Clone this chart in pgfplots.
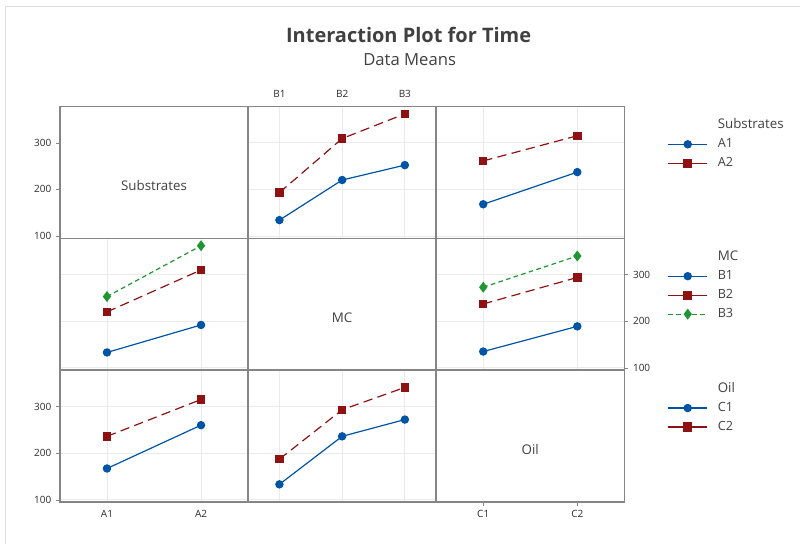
\documentclass[border=0pt]{standalone}
\usepackage{fontspec}
\setmainfont{Open Sans}
\usepackage{pgfplots}
\pgfplotsset{compat=1.18}
\definecolor{mblue}{HTML}{0054A6}
\definecolor{mred}{HTML}{8E1212}
\definecolor{mgreen}{HTML}{1E9632}
\definecolor{frame}{HTML}{858585}
\definecolor{txt}{HTML}{404040}
\definecolor{tick}{HTML}{2A2A2A}
\definecolor{gridc}{HTML}{EBEBEB}
\pgfplotsset{
  panel/.style={
    scale only axis, width=141.225pt, height=99pt, anchor=north west,
    ymin=95, ymax=378, ytick={100,200,300},
    axis line style={frame, line width=1.1pt},
    tick align=outside, major tick length=3pt,
    xtick style={draw=none}, ytick style={draw=none},
    xticklabels={}, yticklabels={},
    ticklabel style={font=\fontsize{7.5}{9}\selectfont, text=tick},
    grid=major, major grid style={gridc, line width=0.6pt},
    legend style={draw=none, fill=none, at={(axis description cs:1.229,0.904)}, anchor=north west,
      font=\fontsize{9.5}{11}\selectfont, text=txt, inner sep=0pt, row sep=5.25pt,
      nodes={inner sep=0pt, text height=7pt, text depth=2pt}},
    legend cell align=left,
    legend image code/.code={\draw[mark repeat=2,mark phase=2,##1] plot coordinates {(0pt,0pt) (14.6pt,0pt) (29.2pt,0pt)};},
    /tikz/every odd column/.append style={column sep=7.5pt},
  },
  p2/.style={xmin=0.5, xmax=2.5, xtick={1,2}},
  p3/.style={xmin=0.5, xmax=3.5, xtick={1,2,3}},
  s1/.style={mblue, line width=0.9pt, mark=*, mark size=2.7pt, mark options={solid}},
  s2/.style={mred, line width=0.9pt, dash pattern=on 7pt off 4pt, mark=square*, mark size=2.7pt, mark options={solid}},
  s2l/.style={mred, line width=0.9pt, solid, mark=square*, mark size=3pt, mark options={solid}},
  s3/.style={mgreen, line width=0.9pt, dash pattern=on 3.5pt off 2.5pt, mark=diamond*, mark size=3.4pt, mark options={solid}},
}
\newcommand{\lt}[1]{\fontsize{10}{12}\selectfont #1}
\begin{document}
\begin{tikzpicture}
\path (0,0) rectangle (600.75pt,-408pt);
\draw[black!13, line width=1.1pt] (4.1pt,-408pt) -- (4.1pt,-4.9pt) -- (600.75pt,-4.9pt);
\node[anchor=base, font=\fontsize{15}{18}\selectfont\bfseries, text=txt] at (306.75pt,-31.7pt) {Interaction Plot for Time};
\node[anchor=base, font=\fontsize{12.5}{15}\selectfont, text=txt] at (307.5pt,-49.3pt) {Data Means};

% ---------- Row 1 ----------
\begin{axis}[panel, p2, at={(45pt,-79.875pt)}, grid=none, ytick pos=left, ytick style={draw=frame}, yticklabels={100,200,300}]
\node[font=\lt{}, text=txt] at (axis description cs:0.5,0.4) {Substrates};
\end{axis}
\begin{axis}[panel, p3, at={(186.225pt,-79.875pt)}, xticklabel pos=top, xticklabels={B1,B2,B3}]
\addplot[s1] coordinates {(1,134) (2,220) (3,252)};
\addplot[s2] coordinates {(1,193) (2,309) (3,362)};
\end{axis}
\begin{axis}[panel, p2, at={(327.45pt,-79.875pt)}]
\addlegendimage{empty legend}\addlegendentry{\lt{Substrates}}
\addplot[s1] coordinates {(1,168) (2,237)}; \addlegendentry{A1}
\addlegendimage{s2l}\addlegendentry{A2}
\addplot[s2, forget plot] coordinates {(1,261) (2,315)};
\end{axis}

% ---------- Row 2 ----------
\begin{axis}[panel, p2, at={(45pt,-178.875pt)}]
\addplot[s1] coordinates {(1,133) (2,192)};
\addplot[s2] coordinates {(1,220) (2,310)};
\addplot[s3] coordinates {(1,253) (2,362)};
\end{axis}
\begin{axis}[panel, p3, at={(186.225pt,-178.875pt)}, grid=none]
\node[font=\lt{}, text=txt] at (axis description cs:0.5,0.4) {MC};
\end{axis}
\begin{axis}[panel, p2, at={(327.45pt,-178.875pt)}, ytick pos=right, yticklabel pos=right, ytick style={draw=frame}, yticklabels={100,200,300}]
\addlegendimage{empty legend}\addlegendentry{\lt{MC}}
\addplot[s1] coordinates {(1,135) (2,189)}; \addlegendentry{B1}
\addlegendimage{s2l}\addlegendentry{B2}
\addplot[s3] coordinates {(1,273) (2,340)}; \addlegendentry{B3}
\addplot[s2, forget plot] coordinates {(1,237) (2,294)};
\end{axis}

% ---------- Row 3 ----------
\begin{axis}[panel, p2, at={(45pt,-277.875pt)}, ytick pos=left, ytick style={draw=frame}, yticklabels={100,200,300}, xticklabels={A1,A2}]
\addplot[s1] coordinates {(1,167) (2,260)};
\addplot[s2] coordinates {(1,236) (2,315)};
\end{axis}
\begin{axis}[panel, p3, at={(186.225pt,-277.875pt)}]
\addplot[s1] coordinates {(1,133) (2,236) (3,272)};
\addplot[s2] coordinates {(1,187) (2,293) (3,341)};
\end{axis}
\begin{axis}[panel, p2, at={(327.45pt,-277.875pt)}, grid=none, xtick pos=bottom, xtick style={draw=frame}, xticklabels={C1,C2}]
\node[font=\lt{}, text=txt] at (axis description cs:0.5,0.4) {Oil};
\addlegendimage{empty legend}\addlegendentry{\lt{Oil}}
\addlegendimage{s1}\addlegendentry{C1}
\addlegendimage{s2l}\addlegendentry{C2}
\end{axis}
\end{tikzpicture}
\end{document}
